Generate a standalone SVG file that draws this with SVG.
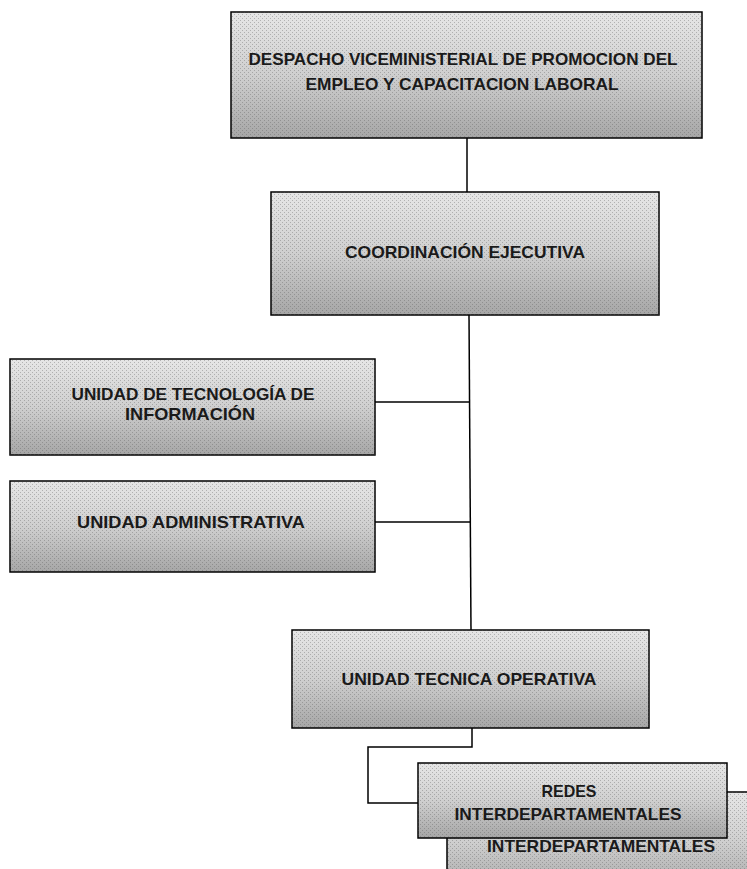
<svg xmlns="http://www.w3.org/2000/svg" width="747" height="869" viewBox="0 0 747 869">
<defs>
<linearGradient id="g" x1="0" y1="0" x2="0" y2="1">
<stop offset="0" stop-color="#e6e6e6"/>
<stop offset="0.5" stop-color="#cfcfcf"/>
<stop offset="1" stop-color="#a6a6a6"/>
</linearGradient>
<pattern id="dots" width="4" height="4" patternUnits="userSpaceOnUse">
<rect x="0" y="0" width="1" height="1" fill="#555" opacity="0.35"/>
<rect x="2" y="2" width="1" height="1" fill="#555" opacity="0.35"/>
</pattern>
</defs>
<style>
.box{fill:url(#g);stroke:#000;stroke-width:1.5}
.tex{fill:url(#dots);stroke:none}
.t{font-family:"Liberation Sans",Arial,sans-serif;font-size:17px;font-weight:bold;fill:#1a1a1a;text-anchor:middle}
.c{fill:none;stroke:#000;stroke-width:1.5}
</style>
<rect width="747" height="869" fill="#fff"/>
<g id="connectors">
<line class="c" x1="467" y1="138" x2="467" y2="192"/>
<line class="c" x1="469" y1="315" x2="471" y2="630"/>
<line class="c" x1="375" y1="402" x2="470" y2="402"/>
<line class="c" x1="375" y1="522" x2="470" y2="522"/>
<polyline class="c" points="472,728 472,747 368,747 368,803 418,803"/>
</g>
<g id="redes-back">
<rect class="box" x="447" y="792" width="320" height="100"/>
<rect class="tex" x="447" y="792" width="320" height="100"/>
<text class="t" x="601" y="852" textLength="228" lengthAdjust="spacingAndGlyphs">INTERDEPARTAMENTALES</text>
</g>
<g id="despacho">
<rect class="box" x="231" y="12" width="471" height="126"/>
<rect class="tex" x="231" y="12" width="471" height="126"/>
<text class="t" x="463" y="65" textLength="429" lengthAdjust="spacingAndGlyphs">DESPACHO VICEMINISTERIAL DE PROMOCION DEL</text>
<text class="t" x="462" y="90" textLength="313" lengthAdjust="spacingAndGlyphs">EMPLEO Y CAPACITACION LABORAL</text>
</g>
<g id="coordinacion">
<rect class="box" x="271" y="192" width="388" height="123"/>
<rect class="tex" x="271" y="192" width="388" height="123"/>
<text class="t" x="465" y="258" textLength="240" lengthAdjust="spacingAndGlyphs">COORDINACIÓN  EJECUTIVA</text>
</g>
<g id="tecnologia">
<rect class="box" x="10" y="359" width="365" height="96"/>
<rect class="tex" x="10" y="359" width="365" height="96"/>
<text class="t" x="193" y="400" textLength="243" lengthAdjust="spacingAndGlyphs">UNIDAD DE TECNOLOGÍA DE</text>
<text class="t" x="190" y="420" textLength="130" lengthAdjust="spacingAndGlyphs">INFORMACIÓN</text>
</g>
<g id="administrativa">
<rect class="box" x="10" y="481" width="365" height="91"/>
<rect class="tex" x="10" y="481" width="365" height="91"/>
<text class="t" x="191" y="528" textLength="228" lengthAdjust="spacingAndGlyphs">UNIDAD ADMINISTRATIVA</text>
</g>
<g id="tecnica">
<rect class="box" x="292" y="630" width="357" height="98"/>
<rect class="tex" x="292" y="630" width="357" height="98"/>
<text class="t" x="469" y="685" textLength="255" lengthAdjust="spacingAndGlyphs">UNIDAD TECNICA OPERATIVA</text>
</g>
<g id="redes">
<rect class="box" x="418" y="763" width="309" height="75"/>
<rect class="tex" x="418" y="763" width="309" height="75"/>
<text class="t" x="569" y="797" textLength="55" lengthAdjust="spacingAndGlyphs">REDES</text>
<text class="t" x="568" y="820" textLength="227" lengthAdjust="spacingAndGlyphs">INTERDEPARTAMENTALES</text>
</g>
</svg>
